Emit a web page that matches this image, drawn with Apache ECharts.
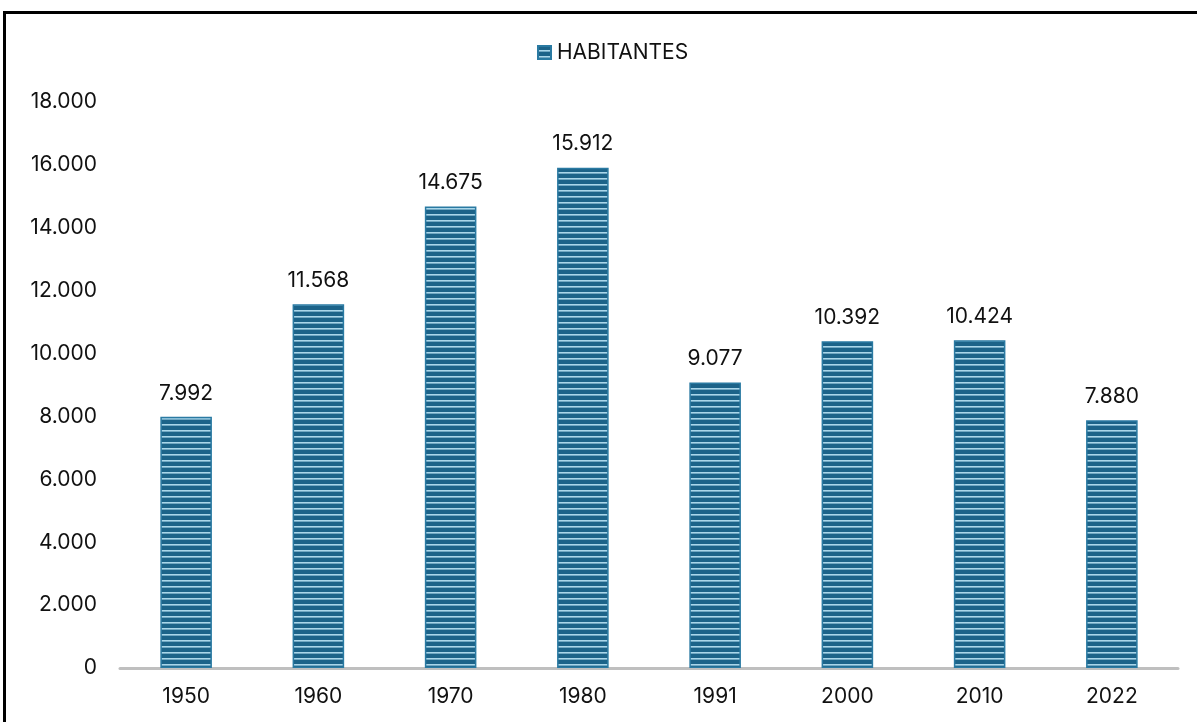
<!DOCTYPE html>
<html lang="pt">
<head>
    <meta charset="UTF-8">
    <title>Habitantes</title>
    <script src="https://cdn.jsdelivr.net/npm/echarts@6/dist/echarts.min.js"></script>
    <style>
        html, body {margin: 0; padding: 0; background: #fff;}
        #chart {width: 1197px; height: 722px;}
    </style>
</head>
<body>
<div id="chart"></div>
<script>
    var anos = ['1950', '1960', '1970', '1980', '1991', '2000', '2010', '2022'];
    var habitantes = [7992, 11568, 14675, 15912, 9077, 10392, 10424, 7880];
    var yMax = 18000;
    var yStep = 2000;

    // listras horizontais das barras
    function stripes() {
        var c = document.createElement('canvas');
        c.width = 8;
        c.height = 6;
        var ctx = c.getContext('2d');
        ctx.fillStyle = '#1c6389';
        ctx.fillRect(0, 0, 8, 6);
        ctx.fillStyle = '#a9d6ea';
        ctx.fillRect(0, 4, 8, 1.6);
        return c;
    }

    function fmt(v) {
        return String(v).replace(/\B(?=(\d{3})+(?!\d))/g, '.');
    }

    var font = 'Inter';
    var fs = 21;
    var myChart = echarts.init(document.getElementById('chart'));
    var option = {
        animation: false,
        graphic: [{
            type: 'rect',
            shape: {x: 4.5, y: 12.5, width: 1300, height: 900},
            style: {fill: 'none', stroke: '#000', lineWidth: 3}
        }],
        legend: {
            top: 37,
            left: 532,
            itemWidth: 13,
            itemHeight: 13,
            itemGap: 5,
            textStyle: {fontFamily: font, fontSize: fs, color: '#111', padding: [0, 0, 0, 1]},
            data: [{name: 'HABITANTES', icon: 'rect'}]
        },
        grid: {left: 120, right: 19, top: 102, bottom: 54},
        xAxis: {
            type: 'category',
            data: anos,
            axisLine: {lineStyle: {color: '#bfbfbf', width: 3}},
            axisTick: {show: false},
            axisLabel: {fontFamily: font, fontSize: fs, color: '#111', margin: 18}
        },
        yAxis: {
            type: 'value',
            min: 0,
            max: yMax,
            interval: yStep,
            splitLine: {show: false},
            axisLine: {show: false},
            axisTick: {show: false},
            axisLabel: {fontFamily: font, fontSize: fs, color: '#111', margin: 23, formatter: fmt}
        },
        series: [{
            name: 'HABITANTES',
            type: 'bar',
            data: habitantes,
            barWidth: '39%',
            itemStyle: {
                color: {image: stripes(), repeat: 'repeat'},
                borderColor: '#2a7aa2',
                borderWidth: 1.5
            },
            label: {
                show: true,
                position: 'top',
                distance: 13,
                fontFamily: font,
                fontSize: fs,
                color: '#111',
                formatter: function (p) { return fmt(p.value); }
            }
        }]
    };
    myChart.setOption(option);
</script>
</body>
</html>
